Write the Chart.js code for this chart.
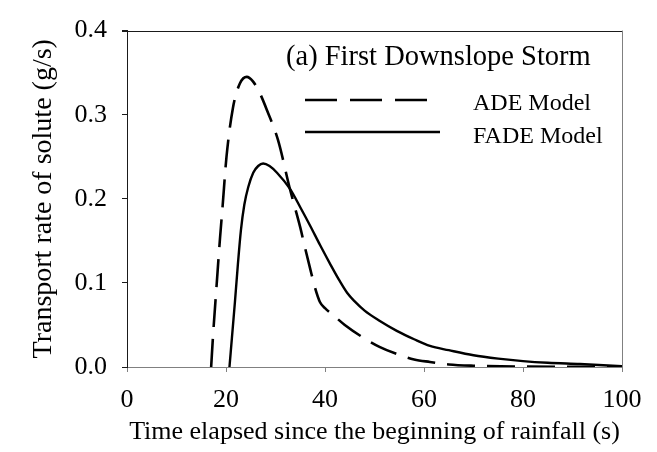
<!DOCTYPE html>
<html>
<head>
<meta charset="utf-8">
<script src="https://cdn.jsdelivr.net/npm/chart.js@4/dist/chart.umd.min.js"></script>
<style>
html,body{margin:0;padding:0;background:#fff;}
#wrap{width:657px;height:452px;position:relative;}
</style>
</head>
<body>
<div id="wrap"><canvas id="c" width="657" height="452"></canvas></div>
<script>
// ---- data ----
const adeTime = [17.0, 17.4, 18.1, 18.8, 19.3, 20.1, 21.4, 22.8, 24.2, 25.4, 26.8, 28.3, 30.5, 32.9, 35.0, 36.0, 37.0, 38.0, 39.0, 40.0, 41.6, 44.0, 47.7, 51.0, 55.2, 58.0, 61.2, 65.0, 70.0, 80.0, 90.0, 100.0];
const adeRate = [0.000, 0.039, 0.097, 0.154, 0.190, 0.250, 0.308, 0.337, 0.345, 0.340, 0.326, 0.305, 0.270, 0.212, 0.166, 0.141, 0.117, 0.094, 0.077, 0.070, 0.062, 0.050, 0.035, 0.024, 0.014, 0.009, 0.006, 0.003, 0.0015, 0.0005, 0.0002, 0.0000];

const fadeTime = [20.7, 21.2, 21.8, 22.4, 23.0, 23.7, 24.5, 25.5, 26.5, 27.5, 28.8, 30.3, 32.9, 35.0, 37.0, 39.0, 41.0, 43.0, 44.5, 46.0, 48.0, 51.0, 54.5, 58.0, 61.2, 65.0, 70.0, 75.0, 80.0, 85.0, 91.5, 100.0];
const fadeRate = [0.000, 0.035, 0.077, 0.122, 0.162, 0.193, 0.214, 0.231, 0.239, 0.242, 0.239, 0.231, 0.212, 0.190, 0.168, 0.145, 0.123, 0.102, 0.088, 0.078, 0.067, 0.055, 0.043, 0.033, 0.025, 0.020, 0.014, 0.010, 0.007, 0.005, 0.0035, 0.001];

const xTicks = [0, 20, 40, 60, 80, 100];
const yTicks = [0.0, 0.1, 0.2, 0.3, 0.4];

const seriesNames = ['ADE Model', 'FADE Model'];
const panelTitle = '(a) First Downslope Storm';
const xTitle = 'Time elapsed since the beginning of rainfall (s)';
const yTitle = 'Transport rate of solute (g/s)';

const FONT = '"Liberation Serif", "Times New Roman", serif';
const DASH = [28, 12];

function toPoints(xs, ys) { return xs.map((x, i) => ({x: x, y: ys[i]})); }

const overlay = {
  id: 'overlay',
  afterDraw(chart) {
    const ctx = chart.ctx;
    const a = chart.chartArea;
    ctx.save();
    // top border
    ctx.strokeStyle = '#1a1a1a';
    ctx.lineWidth = 1;
    ctx.beginPath();
    ctx.moveTo(a.left - 5, Math.round(a.top) + 0.5);
    ctx.lineTo(a.right, Math.round(a.top) + 0.5);
    ctx.stroke();
    // right border
    ctx.strokeStyle = '#808080';
    ctx.beginPath();
    ctx.moveTo(Math.round(a.right) + 0.5, a.top);
    ctx.lineTo(Math.round(a.right) + 0.5, a.bottom);
    ctx.stroke();

    // panel title
    ctx.fillStyle = '#000';
    ctx.textBaseline = 'alphabetic';
    ctx.textAlign = 'left';
    ctx.font = '28.5px ' + FONT;
    ctx.fillText(panelTitle, 286, 65);

    // legend
    ctx.lineWidth = 2.6;
    ctx.strokeStyle = '#000';
    ctx.setLineDash([32, 13]);
    ctx.beginPath();
    ctx.moveTo(305, 100);
    ctx.lineTo(427, 100);
    ctx.stroke();
    ctx.setLineDash([]);
    ctx.beginPath();
    ctx.moveTo(305, 132);
    ctx.lineTo(440, 132);
    ctx.stroke();
    ctx.font = '24px ' + FONT;
    ctx.fillText(seriesNames[0], 473, 110);
    ctx.fillText(seriesNames[1], 473, 143);
    ctx.restore();
  }
};

new Chart(document.getElementById('c'), {
  type: 'line',
  data: {
    datasets: [
      {
        label: seriesNames[0],
        data: toPoints(adeTime, adeRate),
        borderColor: '#000',
        borderWidth: 2.6,
        borderDash: DASH,
        pointRadius: 0,
        fill: false,
        cubicInterpolationMode: 'monotone'
      },
      {
        label: seriesNames[1],
        data: toPoints(fadeTime, fadeRate),
        borderColor: '#000',
        borderWidth: 2.4,
        pointRadius: 0,
        fill: false,
        cubicInterpolationMode: 'monotone'
      }
    ]
  },
  options: {
    responsive: false,
    animation: false,
    devicePixelRatio: 1,
    layout: { padding: { left: 0, right: 35, top: 20, bottom: 0 } },
    plugins: { legend: { display: false }, tooltip: { enabled: false } },
    scales: {
      x: {
        type: 'linear',
        min: 0, max: 100,
        afterBuildTicks(scale) { scale.ticks = xTicks.map(v => ({value: v})); },
        afterFit(scale) { scale.height = 85; },
        ticks: {
          color: '#000',
          font: { family: FONT, size: 26 },
          padding: 13,
          maxRotation: 0,
          callback: v => String(v)
        },
        grid: { drawOnChartArea: false, drawTicks: true, tickLength: 5, color: '#808080', tickWidth: 1 },
        border: { display: true, color: '#808080', width: 1 },
        title: {
          display: true,
          text: xTitle,
          color: '#000',
          font: { family: FONT, size: 26 },
          padding: { top: 0, bottom: 4 }
        }
      },
      y: {
        type: 'linear',
        min: 0, max: 0.4,
        afterBuildTicks(scale) { scale.ticks = yTicks.map(v => ({value: v})); },
        afterFit(scale) { scale.width = 127; },
        ticks: {
          color: '#000',
          font: { family: FONT, size: 26 },
          padding: 15,
          callback: v => Number(v).toFixed(1)
        },
        grid: { drawOnChartArea: false, drawTicks: true, tickLength: 5, color: '#1a1a1a', tickWidth: 1 },
        border: { display: true, color: '#1a1a1a', width: 1 },
        title: {
          display: true,
          text: yTitle,
          color: '#000',
          font: { family: FONT, size: 28 },
          padding: { top: 27, bottom: 0 }
        }
      }
    }
  },
  plugins: [overlay]
});
</script>
</body>
</html>
